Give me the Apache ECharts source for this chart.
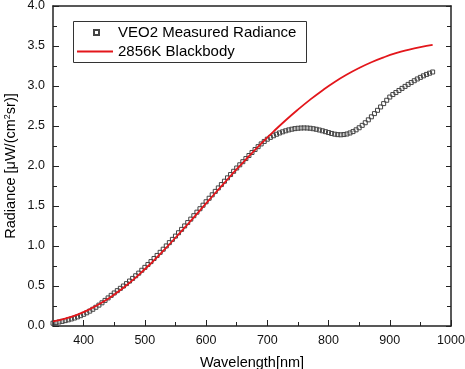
<!DOCTYPE html>
<html>
<head>
<meta charset="utf-8">
<script src="https://cdn.jsdelivr.net/npm/echarts@6/dist/echarts.min.js"></script>
<style>
  html, body { margin: 0; padding: 0; background: #fff; }
  #chart { width: 465px; height: 369px; }
</style>
</head>
<body>
<div id="chart"></div>
<script>
// measured radiance, every 5 nm
const measuredWl = [
  350, 355, 360, 365, 370, 375, 380, 385, 390, 395, 400, 405, 410, 415, 420, 425, 430, 435, 440, 445,
  450, 455, 460, 465, 470, 475, 480, 485, 490, 495, 500, 505, 510, 515, 520, 525, 530, 535, 540, 545,
  550, 555, 560, 565, 570, 575, 580, 585, 590, 595, 600, 605, 610, 615, 620, 625, 630, 635, 640, 645,
  650, 655, 660, 665, 670, 675, 680, 685, 690, 695, 700, 705, 710, 715, 720, 725, 730, 735, 740, 745,
  750, 755, 760, 765, 770, 775, 780, 785, 790, 795, 800, 805, 810, 815, 820, 825, 830, 835, 840, 845,
  850, 855, 860, 865, 870, 875, 880, 885, 890, 895, 900, 905, 910, 915, 920, 925, 930, 935, 940, 945,
  950, 955, 960, 965, 970
];
const measuredVal = [
  0.035, 0.042, 0.050, 0.058, 0.067, 0.077, 0.088, 0.100, 0.114, 0.129, 0.146, 0.165, 0.186, 0.209, 0.234, 0.261, 0.290, 0.320, 0.351, 0.383,
  0.413, 0.442, 0.471, 0.500, 0.530, 0.562, 0.595, 0.628, 0.661, 0.697, 0.733, 0.769, 0.805, 0.844, 0.882, 0.921, 0.960, 1.001, 1.042, 1.083,
  1.124, 1.166, 1.208, 1.251, 1.293, 1.336, 1.379, 1.423, 1.466, 1.510, 1.553, 1.597, 1.640, 1.683, 1.726, 1.768, 1.810, 1.852, 1.893, 1.934,
  1.975, 2.015, 2.054, 2.093, 2.131, 2.169, 2.206, 2.242, 2.276, 2.307, 2.335, 2.358, 2.378, 2.397, 2.413, 2.427, 2.440, 2.451, 2.460, 2.467,
  2.472, 2.475, 2.476, 2.475, 2.472, 2.466, 2.459, 2.450, 2.440, 2.429, 2.418, 2.407, 2.398, 2.392, 2.390, 2.393, 2.400, 2.413, 2.430, 2.452,
  2.478, 2.508, 2.541, 2.577, 2.615, 2.655, 2.696, 2.738, 2.780, 2.822, 2.862, 2.893, 2.918, 2.944, 2.970, 2.995, 3.020, 3.043, 3.066, 3.088,
  3.108, 3.127, 3.145, 3.160, 3.175
];

// 2856K blackbody curve, every 20 nm
const bbWl = [
  350, 370, 390, 410, 430, 450, 470, 490, 510, 530, 550, 570, 590, 610, 630, 650,
  670, 690, 710, 730, 750, 770, 790, 810, 830, 850, 870, 890, 910, 930, 950, 970
];
const bbVal = [
  0.057, 0.093, 0.143, 0.210, 0.293, 0.393, 0.509, 0.640, 0.784, 0.939, 1.103, 1.272, 1.445, 1.619, 1.790, 1.960,
  2.122, 2.280, 2.430, 2.572, 2.705, 2.830, 2.945, 3.050, 3.143, 3.225, 3.297, 3.358, 3.410, 3.452, 3.487, 3.515
];

const seriesNames = ['VEO2 Measured Radiance', '2856K Blackbody'];

const chart = echarts.init(document.getElementById('chart'), null, { renderer: 'canvas' });

const font = 'Arial, "Liberation Sans", sans-serif';
const axisCol = '#222';
const red = '#e3161b';

const option = {
  animation: false,
  backgroundColor: '#fff',
  textStyle: { fontFamily: font },
  grid: { left: 53, right: 14, top: 6, bottom: 43, outerBoundsMode: 'none', containLabel: false },
  legend: [{
    // square marker sits alone, text pushed right to line up with the row below
    data: [{ name: seriesNames[0], icon: 'rect' }],
    left: 93, top: 25,
    padding: 0,
    itemWidth: 5, itemHeight: 5,
    formatter: name => '{p|}' + name,
    textStyle: {
      fontSize: 15, color: '#000', fontFamily: font,
      rich: { p: { width: 14 } }
    }
  }, {
    data: [{ name: seriesNames[1], icon: 'rect' }],
    left: 77, top: 44,
    padding: 0,
    itemWidth: 36, itemHeight: 2,
    textStyle: { fontSize: 15, color: '#000', fontFamily: font }
  }],
  graphic: [{
    type: 'rect',
    shape: { x: 73.5, y: 21.5, width: 233, height: 41 },
    style: { fill: 'none', stroke: '#333', lineWidth: 1 },
    z: 10
  }],
  xAxis: [{
    type: 'value',
    min: 350, max: 1000,
    splitNumber: 6,
    name: 'Wavelength[nm]',
    nameLocation: 'middle',
    nameGap: 29,
    nameMoveOverlap: false,
    nameTextStyle: { fontSize: 14.5, color: '#000', fontFamily: font },
    axisLine: { onZero: false, lineStyle: { color: axisCol, width: 1.5 } },
    axisTick: { inside: true, length: 6, lineStyle: { color: axisCol, width: 1 } },
    minorTick: { show: true, splitNumber: 2, length: 4, lineStyle: { color: axisCol, width: 1 } },
    axisLabel: {
      showMinLabel: false, fontSize: 12.5, color: '#111', margin: 8, fontFamily: font,
      formatter: v => String(v)
    },
    splitLine: { show: false }
  }, {
    type: 'value',
    position: 'top',
    min: 350, max: 1000,
    splitNumber: 6,
    axisLine: { onZero: false, lineStyle: { color: axisCol, width: 1.5 } },
    axisTick: { show: false },
    axisLabel: { show: false },
    splitLine: { show: false }
  }],
  yAxis: [{
    type: 'value',
    min: 0, max: 4, interval: 0.5,
    name: 'Radiance [{u|\u03bc}W/(cm{sup|2}sr)]',
    nameLocation: 'middle',
    nameGap: 34,
    nameMoveOverlap: false,
    nameTextStyle: {
      fontSize: 14.5, color: '#000', fontFamily: font,
      rich: {
        u: { fontSize: 14.5, fontFamily: font, color: '#000' },
        sup: { fontSize: 9, fontFamily: font, color: '#000', verticalAlign: 'top', lineHeight: 16 }
      }
    },
    axisLine: { onZero: false, lineStyle: { color: axisCol, width: 1.5 } },
    axisTick: { inside: true, length: 6, lineStyle: { color: axisCol, width: 1 } },
    minorTick: { show: true, splitNumber: 2, length: 4, lineStyle: { color: axisCol, width: 1 } },
    axisLabel: {
      fontSize: 12.5, color: '#111', margin: 8, fontFamily: font,
      formatter: v => v.toFixed(1)
    },
    splitLine: { show: false }
  }, {
    type: 'value',
    position: 'right',
    min: 0, max: 4, interval: 0.5,
    axisLine: { onZero: false, lineStyle: { color: axisCol, width: 1.5 } },
    axisTick: { inside: true, length: 5, lineStyle: { color: axisCol, width: 1 } },
    minorTick: { show: true, splitNumber: 2, length: 4, lineStyle: { color: axisCol, width: 1 } },
    axisLabel: { show: false },
    splitLine: { show: false }
  }],
  series: [{
    name: seriesNames[0],
    type: 'scatter',
    symbol: 'rect',
    symbolSize: 4,
    itemStyle: { color: 'rgba(255,255,255,0)', borderColor: '#444', borderWidth: 1, opacity: 1 },
    data: measuredWl.map((w, i) => [w, measuredVal[i]]),
    z: 3
  }, {
    name: seriesNames[1],
    type: 'line',
    smooth: true,
    showSymbol: false,
    symbol: 'none',
    lineStyle: { color: red, width: 1.8 },
    itemStyle: { color: red },
    data: bbWl.map((w, i) => [w, bbVal[i]]),
    z: 4
  }]
};

chart.setOption(option);
</script>
</body>
</html>
